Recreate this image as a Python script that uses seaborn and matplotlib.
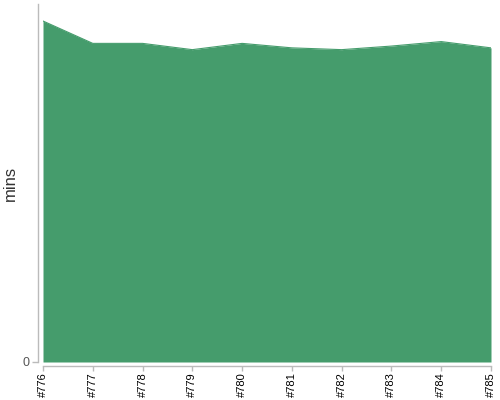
import numpy as np
import pandas as pd
import matplotlib
matplotlib.use("Agg")
import matplotlib.pyplot as plt
import seaborn as sns

builds = ["#776", "#777", "#778", "#779", "#780", "#781", "#782", "#783", "#784", "#785"]
mins = [38.1, 35.6, 35.6, 34.9, 35.6, 35.1, 34.9, 35.3, 35.8, 35.1]

df = pd.DataFrame({"build": builds, "mins": mins})
df["pos"] = np.arange(len(df))

sns.set_theme(style="white")
plt.rcParams["font.family"] = ["Liberation Sans", "DejaVu Sans"]

fig = plt.figure(figsize=(5, 4), dpi=100)
ax = fig.add_axes([43 / 500, 38 / 400, 448 / 500, 358 / 400])

color = "#459c6c"
ax.fill_between(df["pos"], 0, df["mins"], color=color, linewidth=0)
sns.lineplot(data=df, x="pos", y="mins", ax=ax, color=color, linewidth=0.8)

ax.set_xlim(0, len(df) - 1)
ax.set_ylim(0, 40)
ax.set_xticks(df["pos"])
ax.set_xticklabels(df["build"])
ax.set_yticks([0])
ax.set_yticklabels(["0"])
ax.set_xlabel("")
ax.set_ylabel("mins", fontsize=12, color="#333333")
ax.yaxis.set_label_coords(-0.056, 0.5)

sns.despine(ax=ax, offset={"left": 3.6, "bottom": 3})
for side in ["left", "bottom"]:
    ax.spines[side].set_color("#bbbbbb")
    ax.spines[side].set_linewidth(1)
ax.tick_params(axis="x", length=3.5, width=1, color="#bbbbbb", pad=1, bottom=True,
               labelrotation=90, labelsize=8, labelcolor="black")
ax.tick_params(axis="y", length=4, width=1, color="#bbbbbb", pad=2, left=True,
               labelsize=9, labelcolor="#555555")

fig.savefig("out.png", dpi=100)
